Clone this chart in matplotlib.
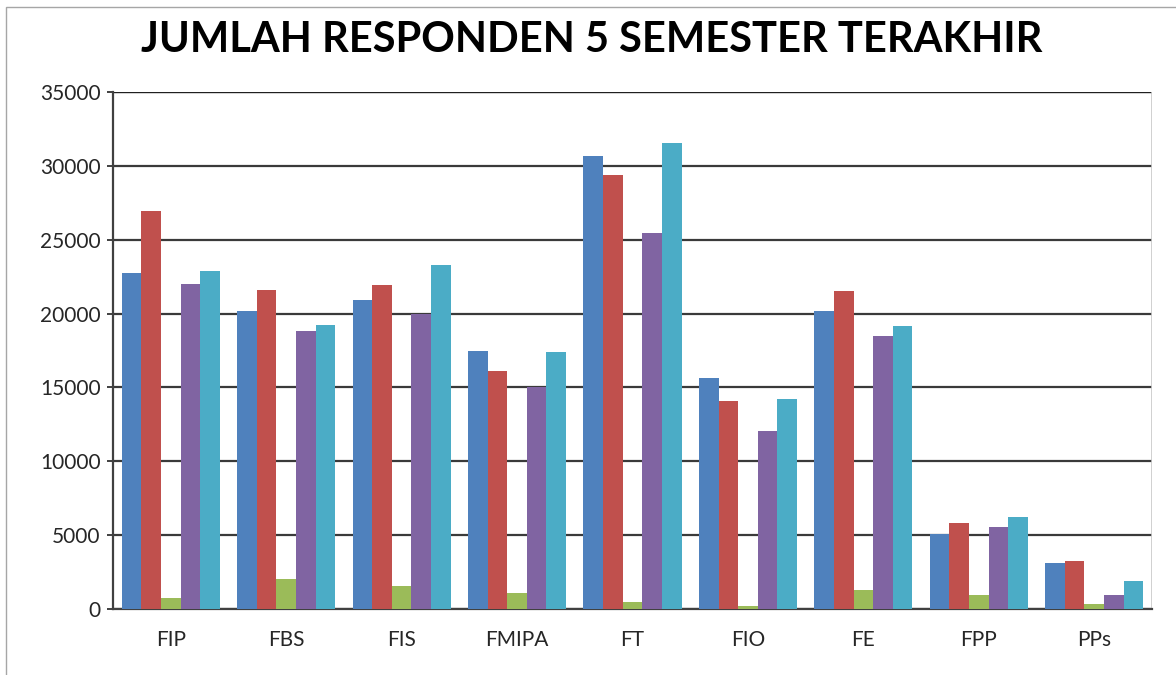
"""
Jumlah responden 5 semester terakhir, per fakultas.
Clustered bar chart, Excel 2007 style.
"""

import matplotlib
matplotlib.use("Agg")
import matplotlib.pyplot as plt
import numpy as np
from matplotlib.patches import Rectangle

# ================================================================
# DATA
# ================================================================

FAKULTAS = ["FIP", "FBS", "FIS", "FMIPA", "FT", "FIO", "FE", "FPP", "PPs"]

SEM_1 = [22750, 20180, 20900, 17450, 30650, 15650, 20180, 5070, 3140]
SEM_2 = [26950, 21620, 21910, 16100, 29390, 14070, 21550, 5840, 3260]
SEM_3 = [740, 2030, 1530, 1080, 450, 170, 1320, 980, 350]
SEM_4 = [22030, 18820, 19950, 15000, 25470, 12050, 18480, 5570, 930]
SEM_5 = [22860, 19260, 23260, 17430, 31550, 14190, 19140, 6250, 1900]

SERIES = [SEM_1, SEM_2, SEM_3, SEM_4, SEM_5]
COLORS = ["#4F81BD", "#C0504D", "#9BBB59", "#8064A2", "#4BACC6"]

Y_TICKS = [0, 5000, 10000, 15000, 20000, 25000, 30000, 35000]

plt.rcParams.update({
    "font.family": ["Lato", "DejaVu Sans"],
})


def main():
    fig = plt.figure(figsize=(11.76, 6.75), dpi=100)
    ax = fig.add_axes([113 / 1176, 1 - 609 / 675, (1152 - 113) / 1176, (609 - 92) / 675])

    # thin grey chart border (left + top visible)
    fig.patches.append(Rectangle((6 / 1176, -0.05), 1.1, 1 - 7 / 675 + 0.05,
                                 transform=fig.transFigure, fill=False,
                                 edgecolor="#A6A6A6", linewidth=1.0))

    x = np.arange(len(FAKULTAS))
    n = len(SERIES)
    width = 0.17
    for i, (vals, color) in enumerate(zip(SERIES, COLORS)):
        offset = (i - (n - 1) / 2) * width
        ax.bar(x + offset, vals, width=width, color=color, zorder=3,
               linewidth=0)

    ax.set_xlim(-0.5, len(FAKULTAS) - 0.5)
    ax.set_ylim(0, 35000)
    ax.set_yticks(Y_TICKS)
    ax.set_yticklabels([str(v) for v in Y_TICKS], fontsize=15, color="#262626")
    ax.set_xticks(x)
    ax.set_xticklabels(FAKULTAS, fontsize=15, color="#262626")

    ax.yaxis.grid(True, color="#3A3A3A", linewidth=1.6, zorder=0)
    ax.set_axisbelow(True)

    for side in ["top", "right"]:
        ax.spines[side].set_visible(False)
    ax.spines["left"].set_color("#404040")
    ax.spines["left"].set_linewidth(1.6)
    ax.spines["bottom"].set_color("#404040")
    ax.spines["bottom"].set_linewidth(1.6)
    ax.axhline(35000, color="#202020", linewidth=1.6, zorder=1)
    ax.axvline(len(FAKULTAS) - 0.5, color="#C8C8C8", linewidth=1.2, zorder=1)

    ax.tick_params(axis="y", length=4, width=1.4, color="#404040", pad=5)
    ax.tick_params(axis="x", length=0, pad=15)

    fig.text(592 / 1176, 1 - 52 / 675, "JUMLAH RESPONDEN 5 SEMESTER TERAKHIR",
             ha="center", va="baseline", fontsize=30, fontweight="bold",
             color="black")

    fig.savefig("out.png", dpi=100)
    plt.close(fig)


if __name__ == "__main__":
    main()
